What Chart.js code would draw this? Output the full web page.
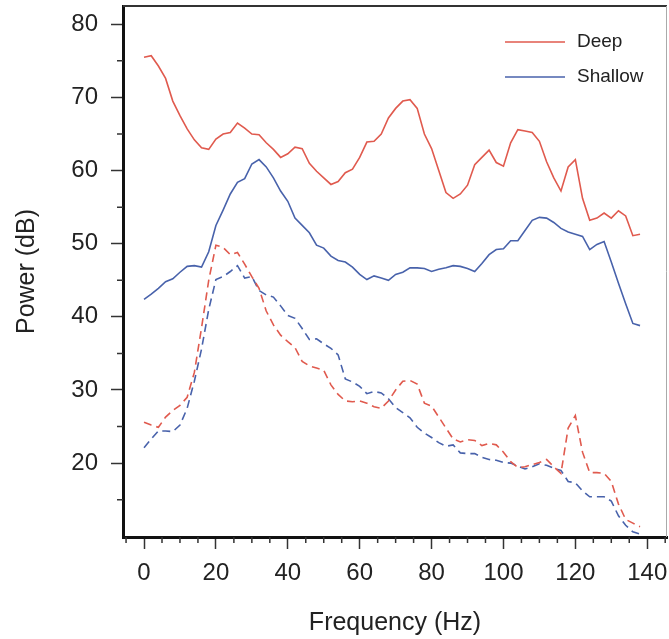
<!DOCTYPE html>
<html>
<head>
<meta charset="utf-8">
<script src="https://cdn.jsdelivr.net/npm/chart.js@4/dist/chart.umd.min.js"></script>
<style>
	html, body { margin: 0; padding: 0; background: #fff; }
	#wrap { width: 669px; height: 639px; }
</style>
</head>
<body>
<div id="wrap"><canvas id="myChart" width="669" height="639"></canvas></div>
<script>
// Frequency bins (Hz)
const freqs = [
	0, 2, 4, 6, 8, 10, 12, 14, 16, 18, 20, 22, 24, 26, 28, 30, 32, 34, 36, 38,
	40, 42, 44, 46, 48, 50, 52, 54, 56, 58, 60, 62, 64, 66, 68, 70, 72, 74, 76, 78,
	80, 82, 84, 86, 88, 90, 92, 94, 96, 98, 100, 102, 104, 106, 108, 110, 112, 114, 116, 118,
	120, 122, 124, 126, 128, 130, 132, 134, 136, 138,
];

// Power (dB), solid lines
const deepSolid = [
	75.5, 75.7, 74.3, 72.6, 69.5, 67.5, 65.7, 64.2, 63.1, 62.9,
	64.3, 65.0, 65.2, 66.5, 65.8, 65.0, 64.9, 63.8, 62.9, 61.8,
	62.3, 63.2, 63.0, 61.0, 59.9, 59.0, 58.1, 58.5, 59.7, 60.2,
	61.8, 63.9, 64.0, 65.0, 67.2, 68.5, 69.5, 69.7, 68.5, 65.0,
	63.0, 60.0, 57.0, 56.2, 56.8, 58.0, 60.8, 61.8, 62.8, 61.1,
	60.6, 63.8, 65.6, 65.4, 65.2, 64.0, 61.2, 59.0, 57.2, 60.5,
	61.5, 56.2, 53.2, 53.5, 54.2, 53.5, 54.5, 53.8, 51.1, 51.3,
];
const shallowSolid = [
	42.4, 43.1, 43.9, 44.8, 45.2, 46.1, 46.9, 47.0, 46.8, 48.9,
	52.5, 54.6, 56.8, 58.4, 58.9, 60.9, 61.5, 60.5, 59.0, 57.2,
	55.8, 53.5, 52.5, 51.5, 49.8, 49.4, 48.3, 47.7, 47.5, 46.8,
	45.8, 45.1, 45.6, 45.3, 45.0, 45.8, 46.1, 46.7, 46.7, 46.6,
	46.2, 46.5, 46.7, 47.0, 46.9, 46.6, 46.2, 47.3, 48.5, 49.2,
	49.3, 50.4, 50.4, 51.8, 53.2, 53.6, 53.5, 52.9, 52.1, 51.6,
	51.3, 51.0, 49.2, 49.9, 50.3, 47.5, 44.6, 41.8, 39.1, 38.8,
];

// Power (dB), dashed lines
const deepDashed = [
	25.6, 25.2, 24.9, 26.3, 27.2, 27.9, 29.0, 32.4, 38.5, 45.0,
	49.8, 49.5, 48.5, 48.8, 47.2, 45.5, 43.9, 40.8, 38.9, 37.5,
	36.6, 35.8, 33.9, 33.3, 33.0, 32.7, 30.7, 29.4, 28.5, 28.4,
	28.5, 28.2, 27.7, 27.5, 28.5, 30.0, 31.2, 31.3, 30.8, 28.2,
	27.8, 26.3, 24.8, 23.3, 22.9, 23.2, 23.1, 22.4, 22.7, 22.5,
	21.5, 20.2, 19.4, 19.5, 19.8, 20.1, 20.5, 19.5, 18.6, 24.8,
	26.5, 21.5, 18.7, 18.7, 18.6, 17.5, 14.4, 12.3, 11.8, 11.3,
];
const shallowDashed = [
	22.1, 23.3, 24.4, 24.4, 24.3, 25.2, 27.5, 31.2, 35.6, 41.0,
	45.1, 45.5, 46.2, 47.0, 45.3, 45.5, 43.6, 43.0, 42.7, 41.5,
	40.2, 39.8, 38.4, 36.9, 37.0, 36.3, 35.7, 34.8, 31.5, 31.1,
	30.5, 29.5, 29.8, 29.6, 28.8, 27.6, 26.9, 26.2, 24.9, 24.1,
	23.5, 22.8, 22.3, 22.5, 21.4, 21.3, 21.3, 20.8, 20.5, 20.4,
	20.1, 20.0, 19.6, 19.2, 19.5, 19.9, 19.7, 19.3, 19.0, 17.5,
	17.3, 16.2, 15.4, 15.4, 15.4, 14.8, 12.8, 11.5, 10.6, 10.3,
];

// Axis ticks
const xTicks = [0, 20, 40, 60, 80, 100, 120, 140];
const xMinorTicks = [-5, 5, 10, 15, 25, 30, 35, 45, 50, 55, 65, 70, 75, 85, 90, 95, 105, 110, 115, 125, 130, 135, 145];
const yTicks = [20, 30, 40, 50, 60, 70, 80];
const yMinorTicks = [15, 25, 35, 45, 55, 65, 75];

const RED = "#e05a4e";
const BLUE = "#4862ab";
const FONT = "'Liberation Sans', Arial, sans-serif";

const toPoints = (ys) => ys.map((y, i) => ({ x: freqs[i], y: y }));

// minor ticks, top/right frame and the in-plot legend
const extras = {
	id: "extras",
	afterDraw(chart) {
		const { ctx, chartArea: a, scales } = chart;
		ctx.save();
		ctx.strokeStyle = "#333";
		ctx.lineWidth = 2;
		ctx.beginPath();
		ctx.moveTo(a.left, a.top);
		ctx.lineTo(a.right, a.top);
		ctx.stroke();
		ctx.strokeStyle = "#aaa";
		ctx.lineWidth = 1;
		ctx.beginPath();
		ctx.moveTo(a.right - 0.5, a.top);
		ctx.lineTo(a.right - 0.5, a.bottom);
		ctx.stroke();

		ctx.strokeStyle = "#333";
		ctx.lineWidth = 1.5;
		ctx.beginPath();
		xMinorTicks.forEach((v) => {
			const px = scales.x.getPixelForValue(v);
			ctx.moveTo(px, a.bottom);
			ctx.lineTo(px, a.bottom + 6);
		});
		yMinorTicks.forEach((v) => {
			const py = scales.y.getPixelForValue(v);
			ctx.moveTo(a.left, py);
			ctx.lineTo(a.left - 6, py);
		});
		ctx.stroke();

		const items = chart.data.datasets.filter((d) => d.inLegend);
		ctx.font = "19px " + FONT;
		ctx.textBaseline = "middle";
		ctx.fillStyle = "#222";
		items.forEach((d, i) => {
			const y = a.top + 36 + i * 35;
			ctx.strokeStyle = d.borderColor;
			ctx.lineWidth = 1.5;
			ctx.beginPath();
			ctx.moveTo(a.right - 162, y);
			ctx.lineTo(a.right - 102, y);
			ctx.stroke();
			ctx.fillText(d.label, a.right - 90, y);
		});
		ctx.restore();
	},
};

const lineStyle = {
	borderWidth: 1.6,
	pointRadius: 0,
	tension: 0,
	fill: false,
};

const ctx = document.getElementById("myChart");
// eslint-disable-next-line no-unused-vars
const myChart = new Chart(ctx, {
	type: "line",
	data: {
		datasets: [
			{ ...lineStyle, label: "Deep", inLegend: true, data: toPoints(deepSolid), borderColor: RED },
			{ ...lineStyle, label: "Shallow", inLegend: true, data: toPoints(shallowSolid), borderColor: BLUE },
			{ ...lineStyle, label: "Deep (dashed)", data: toPoints(deepDashed), borderColor: RED, borderDash: [8, 5] },
			{ ...lineStyle, label: "Shallow (dashed)", data: toPoints(shallowDashed), borderColor: BLUE, borderDash: [8, 5] },
		],
	},
	options: {
		responsive: false,
		animation: false,
		layout: { padding: { top: 6, right: 2, left: 0, bottom: 0 } },
		plugins: {
			legend: { display: false },
			tooltip: { enabled: false },
		},
		scales: {
			x: {
				type: "linear",
				min: -5.85,
				max: 145.5,
				afterBuildTicks: (scale) => {
					scale.ticks = xTicks.map((v) => ({ value: v }));
				},
				afterFit: (scale) => {
					scale.height = 102;
					scale.paddingLeft = 0;
					scale.paddingRight = 0;
				},
				border: { display: true, width: 3, color: "#111" },
				grid: { drawOnChartArea: false, drawTicks: true, tickLength: 12, tickWidth: 1.5, tickColor: "#333" },
				ticks: {
					padding: 10,
					color: "#222",
					maxRotation: 0,
					autoSkip: false,
					font: { family: FONT, size: 24 },
				},
				title: {
					display: true,
					text: "Frequency (Hz)",
					color: "#222",
					font: { family: FONT, size: 25 },
					padding: { top: 0, bottom: 1 },
				},
			},
			y: {
				type: "linear",
				min: 9.9,
				max: 82.5,
				afterBuildTicks: (scale) => {
					scale.ticks = yTicks.map((v) => ({ value: v }));
				},
				afterFit: (scale) => {
					scale.width = 123;
					scale.paddingTop = 0;
					scale.paddingBottom = 0;
				},
				border: { display: true, width: 3, color: "#111" },
				grid: { drawOnChartArea: false, drawTicks: true, tickLength: 12, tickWidth: 1.5, tickColor: "#333" },
				ticks: {
					padding: 13,
					color: "#222",
					font: { family: FONT, size: 24 },
				},
				title: {
					display: true,
					text: "Power (dB)",
					color: "#222",
					font: { family: FONT, size: 25 },
					padding: { top: 12, bottom: 0 },
				},
			},
		},
	},
	plugins: [extras],
});
</script>
</body>
</html>
